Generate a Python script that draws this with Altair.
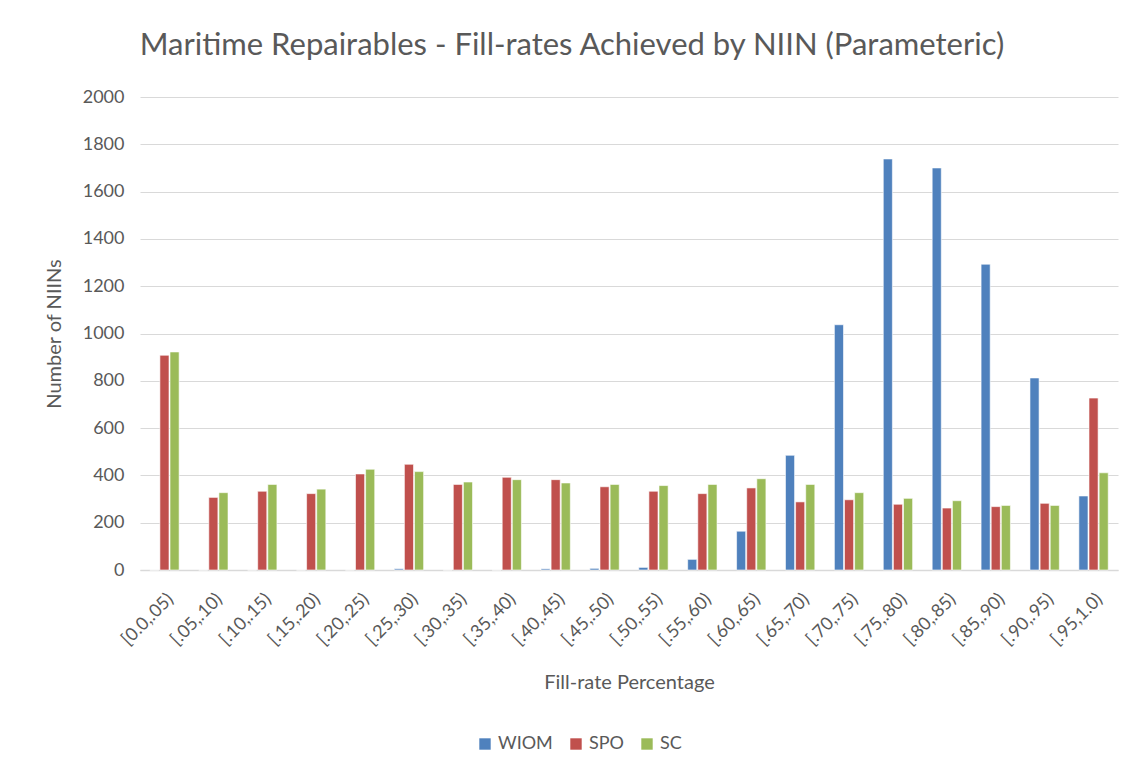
import altair as alt
import pandas as pd

categories = ["[0.0,.05)", "[.05,.10)", "[.10,.15)", "[.15,.20)", "[.20,.25)",
              "[.25,.30)", "[.30,.35)", "[.35,.40)", "[.40,.45)", "[.45,.50)",
              "[.50,.55)", "[.55,.60)", "[.60,.65)", "[.65,.70)", "[.70,.75)",
              "[.75,.80)", "[.80,.85)", "[.85,.90)", "[.90,.95)", "[.95,1.0)"]
series = ["WIOM", "SPO", "SC"]
colors = ["#4F81BD", "#C0504D", "#9BBB59"]

wiom = [0, 0, 0, 0, 0, 5, 0, 0, 5, 7, 11, 45, 164, 485, 1037, 1738, 1700, 1293, 812, 313]
spo = [908, 307, 333, 323, 406, 447, 362, 392, 382, 352, 333, 323, 347, 288, 297, 278, 262, 268, 282, 727]
sc = [922, 327, 362, 342, 426, 416, 372, 382, 368, 362, 357, 362, 386, 362, 327, 303, 293, 273, 273, 411]

rows = []
for name, vals in zip(series, [wiom, spo, sc]):
    for c, v in zip(categories, vals):
        rows.append({"Range": c, "Series": name, "Count": v})
df = pd.DataFrame(rows)

FONT = "Lato"
GRAY = "#595959"

chart = alt.Chart(df).mark_bar(stroke="white", strokeWidth=0.6).encode(
    x=alt.X("Range:N", sort=categories,
            scale=alt.Scale(paddingInner=0.4, paddingOuter=0.2),
            axis=alt.Axis(title="Fill-rate Percentage", labelAngle=-45, labelFontSize=18,
                          labelColor=GRAY, labelFont=FONT, titleFont=FONT, titleFontSize=20,
                          titleColor=GRAY, titleFontWeight="normal", titlePadding=24,
                          ticks=False, domainColor="#D9D9D9", domainWidth=1.5, labelPadding=20)),
    xOffset=alt.XOffset("Series:N", sort=series, scale=alt.Scale(paddingInner=0.1)),
    y=alt.Y("Count:Q", scale=alt.Scale(domain=[0, 2000], nice=False),
            axis=alt.Axis(title="Number of NIINs", values=list(range(0, 2001, 200)),
                          format="d",
                          labelFontSize=18, labelColor=GRAY, labelFont=FONT,
                          titleFont=FONT, titleFontSize=20, titleColor=GRAY,
                          titleFontWeight="normal", titlePadding=18,
                          domain=False, ticks=False, labelPadding=16,
                          gridColor="#D9D9D9", gridWidth=1.2)),
    color=alt.Color("Series:N", sort=series,
                    scale=alt.Scale(domain=series, range=colors),
                    legend=alt.Legend(title=None, orient="none", direction="horizontal",
                                      legendX=336, legendY=638, symbolType="square",
                                      symbolSize=130, labelFontSize=18, labelFont=FONT,
                                      labelColor=GRAY, columnPadding=14, symbolStrokeWidth=0)),
).properties(
    width=978, height=473,
    title=alt.TitleParams("Maritime Repairables - Fill-rates Achieved by NIIN (Parameteric)",
                          fontSize=31, font=FONT, color=GRAY, fontWeight="normal",
                          anchor="middle", dx=-57, offset=26),
    autosize=alt.AutoSizeParams(type="none"),
    padding={"left": 132, "top": 89, "right": 8, "bottom": 195},
).configure_view(stroke=None)

chart.save("out.html", embed_options={"renderer": "svg", "actions": False})
